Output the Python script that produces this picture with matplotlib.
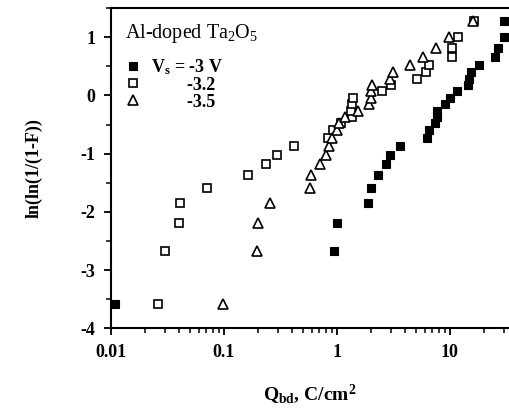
import matplotlib
matplotlib.use("Agg")
import matplotlib.pyplot as plt
from matplotlib.ticker import MultipleLocator, FixedLocator, NullFormatter

plt.rcParams['font.family'] = ['Liberation Serif', 'DejaVu Serif']
plt.rcParams['mathtext.default'] = 'regular'
plt.rcParams['axes.unicode_minus'] = False

# Weibull plot values
lnln_F = [-3.58, -2.67, -2.19, -1.85, -1.59, -1.37, -1.18, -1.02, -0.87, -0.73,
          -0.60, -0.48, -0.37, -0.26, -0.15, -0.04, 0.07, 0.18, 0.29, 0.40,
          0.52, 0.66, 0.81, 1.00, 1.28]

# Qbd (C/cm^2) for each stress voltage
q_3v = [0.011, 0.94, 1.00, 1.88, 2.00, 2.31, 2.72, 2.95, 3.61, 6.26,
        6.52, 7.36, 7.67, 7.7, 9.04, 10.0, 11.5, 14.4, 14.7, 15.3,
        18.0, 25.2, 26.4, 30.0, 30.0]
q_32v = [0.0264, 0.0304, 0.0405, 0.041, 0.071, 0.163, 0.236, 0.295, 0.418, 0.843,
         0.93, 1.08, 1.35, 1.34, 1.37, 1.40, 2.49, 3.01, 5.08, 6.14,
         6.48, 10.4, 10.5, 11.8, 16.3]
q_35v = [0.098, 0.198, 0.20, 0.256, 0.578, 0.589, 0.709, 0.796, 0.86, 0.91,
         0.996, 1.05, 1.18, 1.53, 1.94, 2.00, 2.01, 2.05, 2.95, 3.11,
         4.43, 5.81, 7.52, 9.86, 16.1]

labels = ["V$_s$ = -3 V", "        -3.2", "        -3.5"]

fig = plt.figure(figsize=(5.09, 4.09), dpi=100)
ax = fig.add_axes([0.2175, 0.1973, 0.7825, 0.783])

ax.plot(q_3v, lnln_F, 's', color='black', ms=5.8, mec='black', mew=0.8, ls='none', label=labels[0])
ax.plot(q_32v, lnln_F, 's', mfc='white', mec='black', ms=5.6, mew=1.2, ls='none', label=labels[1])
ax.plot(q_35v, lnln_F, '^', mfc='white', mec='black', ms=7, mew=1.2, ls='none', label=labels[2])

ax.set_xscale('log')
ax.set_xlim(0.01, 33.3)
ax.set_ylim(-4, 1.5)
ax.xaxis.set_major_locator(FixedLocator([0.01, 0.1, 1, 10]))
ax.set_xticklabels(['0.01', '0.1', '1', '10'])
ax.xaxis.set_minor_formatter(NullFormatter())
ax.yaxis.set_major_locator(MultipleLocator(1))
ax.yaxis.set_minor_locator(MultipleLocator(0.5))

for s in ['left', 'bottom', 'top']:
    ax.spines[s].set_linewidth(1.5)
ax.spines['right'].set_visible(False)
ax.tick_params(which='major', direction='out', length=5, width=1.3, labelsize=13, pad=6)
ax.tick_params(which='minor', direction='out', length=3.5, width=1.1)
for t in ax.get_xticklabels() + ax.get_yticklabels():
    t.set_fontweight('bold')

ax.set_xlabel("Q$_{bd}$, C/cm$^2$", fontsize=14, fontweight='bold', labelpad=16)
ax.set_ylabel("ln(ln(1/(1-F))", fontsize=13, fontweight='bold', labelpad=27)

ax.text(0.035, 0.955, "Al-doped Ta$_2$O$_5$", transform=ax.transAxes,
        fontsize=14.5, va='top', ha='left')

leg = ax.legend(loc='upper left', bbox_to_anchor=(0.02, 0.87), frameon=False,
                handlelength=0.8, handletextpad=0.6, labelspacing=0.0,
                borderaxespad=0, prop={'size': 13, 'weight': 'bold'})

fig.savefig('out.png', dpi=100)
